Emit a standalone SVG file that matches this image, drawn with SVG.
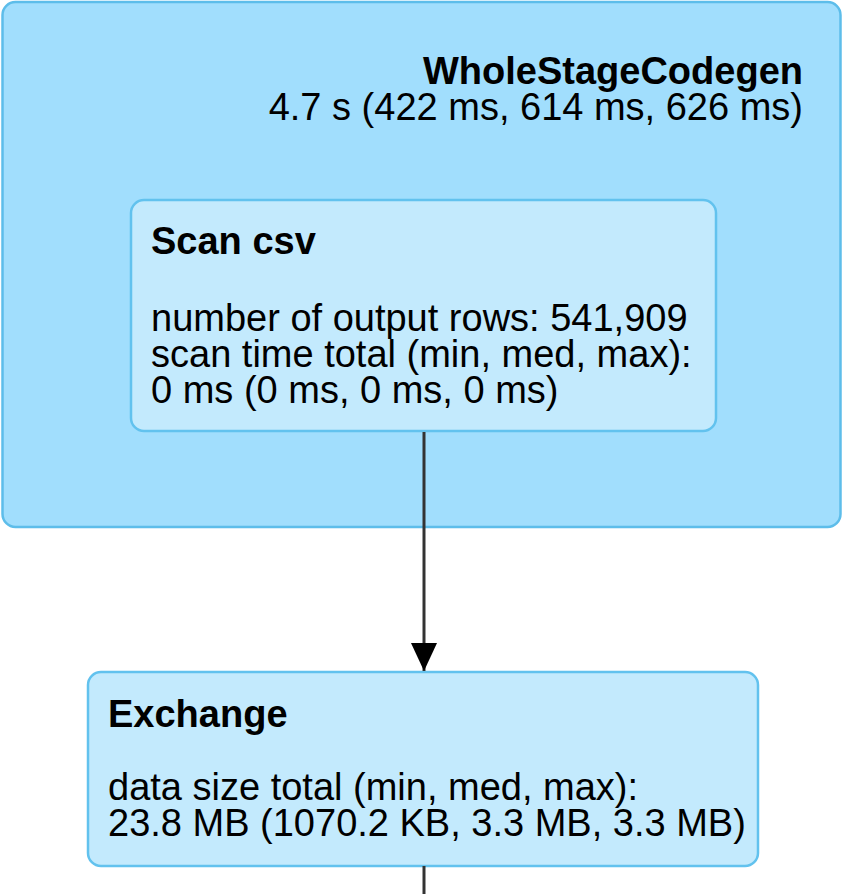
<svg xmlns="http://www.w3.org/2000/svg" width="843" height="894" viewBox="0 0 843 894">
<defs>
<style>
.cluster{fill:#A1DEFD;stroke:#5DBDEA;stroke-width:2.5}
.node{fill:#C3EAFD;stroke:#62C2EE;stroke-width:2.5}
text{font-family:"Liberation Sans",Arial,sans-serif;font-size:38px;fill:#000}
.b{font-weight:bold}
.edge{stroke:#333;stroke-width:3;fill:none}
</style>
<marker id="arr" markerUnits="userSpaceOnUse" markerWidth="30" markerHeight="26" refX="28" refY="13" orient="auto">
<path d="M0,0 L28,13 L0,26 Z" fill="#000"/>
</marker>
</defs>
<rect width="843" height="894" fill="#fff"/>
<g id="wholestagecodegen">
<rect class="cluster" x="2.5" y="2" width="838" height="525" rx="13"/>
<text class="b" x="803" y="84" text-anchor="end">WholeStageCodegen</text>
<text x="803" y="120" text-anchor="end">4.7 s (422 ms, 614 ms, 626 ms)</text>
</g>
<g id="scan-csv">
<rect class="node" x="131" y="200" width="585" height="231" rx="13"/>
<text class="b" x="151" y="254">Scan csv</text>
<text x="151" y="331">number of output rows: 541,909</text>
<text x="151" y="367">scan time total (min, med, max):</text>
<text x="151" y="403">0 ms (0 ms, 0 ms, 0 ms)</text>
</g>
<g id="exchange">
<rect class="node" x="88" y="672" width="670" height="194" rx="13"/>
<text class="b" x="108" y="727">Exchange</text>
<text x="108" y="800">data size total (min, med, max):</text>
<text x="108" y="836">23.8 MB (1070.2 KB, 3.3 MB, 3.3 MB)</text>
</g>
<g id="connectors">
<line class="edge" x1="424" y1="432" x2="424" y2="671" marker-end="url(#arr)"/>
<line class="edge" x1="424" y1="866" x2="424" y2="894"/>
</g>
</svg>
